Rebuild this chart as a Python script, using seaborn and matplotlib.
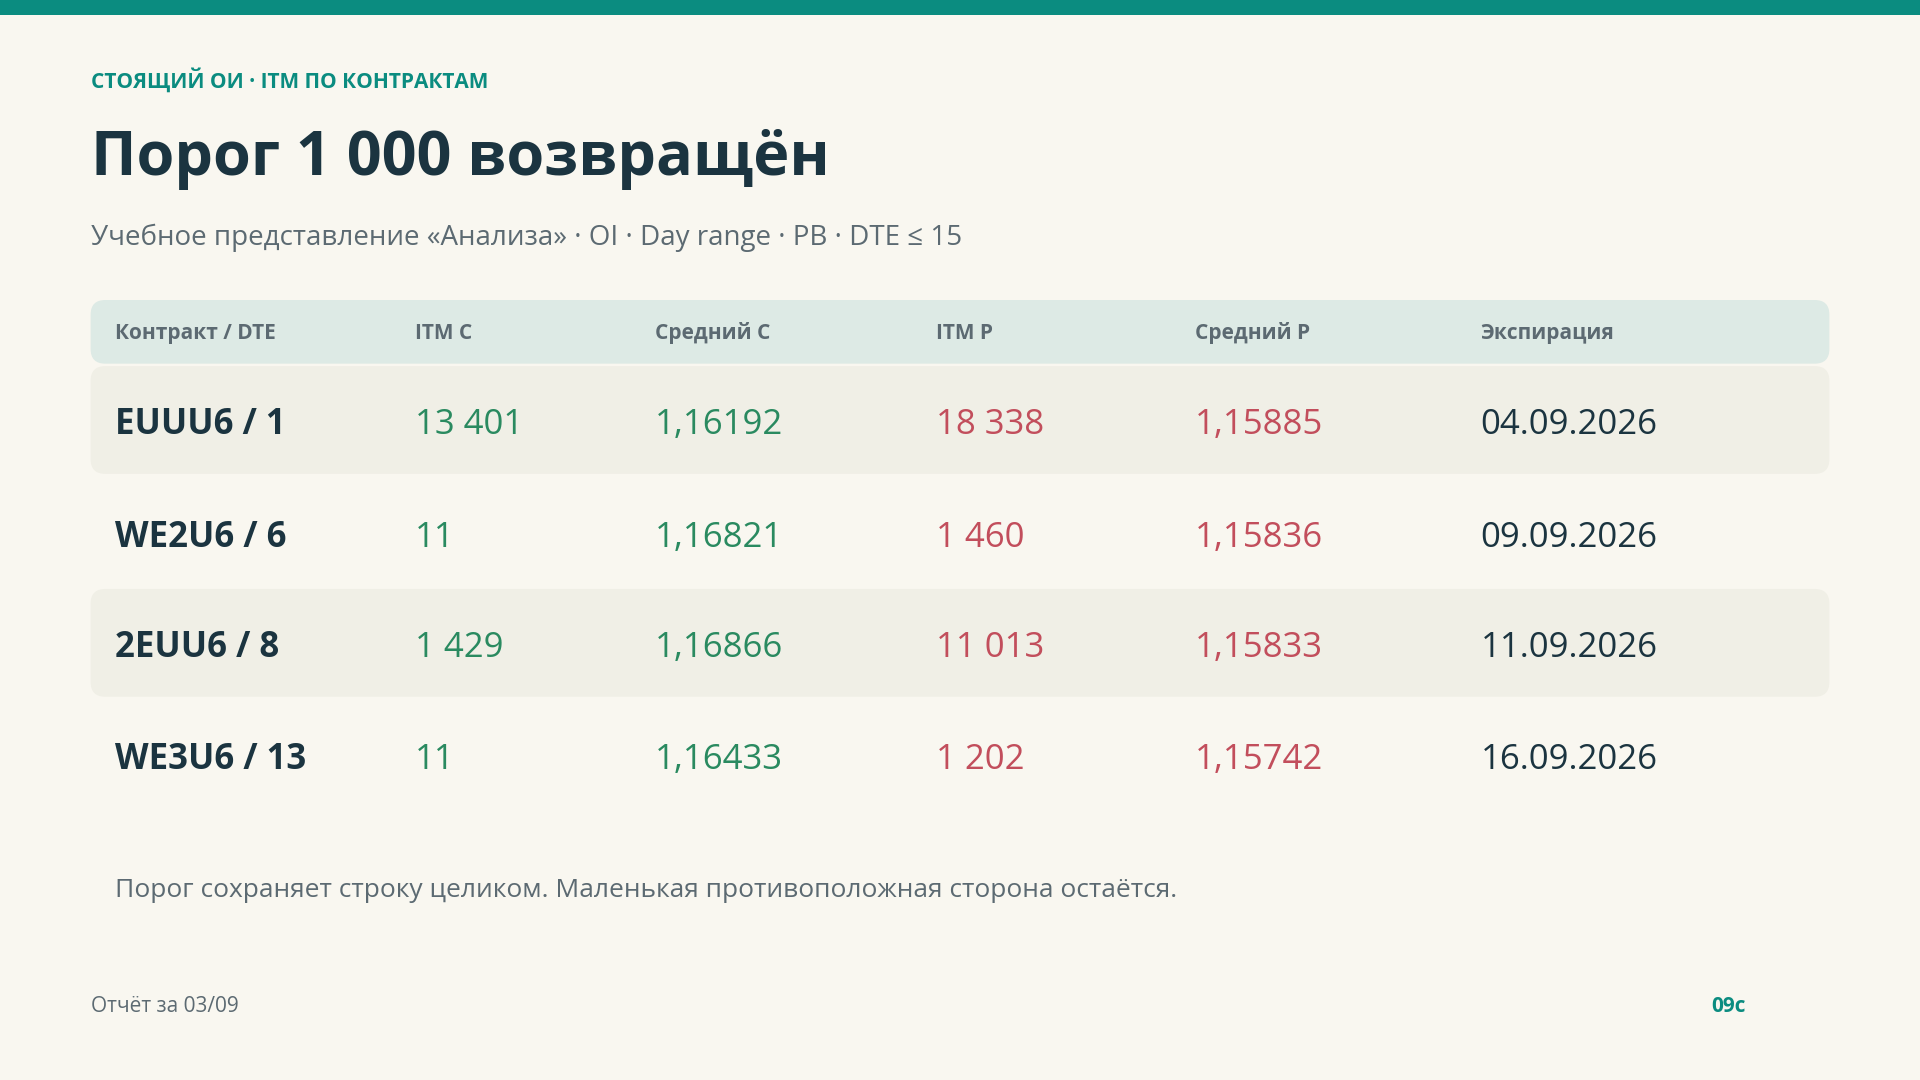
import matplotlib.pyplot as plt
import seaborn as sns
from matplotlib.patches import FancyBboxPatch, Rectangle

contracts = ["EUUU6 / 1", "WE2U6 / 6", "2EUU6 / 8", "WE3U6 / 13"]
itm_c = ["13 401", "11", "1 429", "11"]
avg_c = ["1,16192", "1,16821", "1,16866", "1,16433"]
itm_p = ["18 338", "1 460", "11 013", "1 202"]
avg_p = ["1,15885", "1,15836", "1,15833", "1,15742"]
expiry = ["04.09.2026", "09.09.2026", "11.09.2026", "16.09.2026"]
headers = ["Контракт / DTE", "ITM C", "Средний C", "ITM P", "Средний P", "Экспирация"]

BG = "#F9F7F0"
TEAL = "#0B8C80"
DARK = "#1B3440"
GRAY = "#5C6A72"
GREEN = "#2A8A60"
RED = "#C24E5C"

sns.set_theme(style="white")
plt.rcParams["font.family"] = ["Open Sans", "Noto Sans", "DejaVu Sans"]

fig = plt.figure(figsize=(19.2, 10.8), dpi=100, facecolor=BG)
ax = fig.add_axes([0, 0, 1, 1])
ax.set_xlim(0, 1568)
ax.set_ylim(882, 0)
ax.axis("off")
ax.set_facecolor(BG)

ax.add_patch(Rectangle((0, 0), 1568, 12, color=TEAL, lw=0))

ax.text(74, 66, "СТОЯЩИЙ ОИ · ITM ПО КОНТРАКТАМ", color=TEAL, fontsize=15,
        fontweight="bold", va="center")
ax.text(74, 130, "Порог 1 000 возвращён", color=DARK, fontsize=44,
        fontweight="bold", va="center")
ax.text(74, 194, "Учебное представление «Анализа» · OI · Day range · PB · DTE ≤ 15",
        color=GRAY, fontsize=20, va="center")

# header band
ax.add_patch(FancyBboxPatch((74, 245), 1420, 52, boxstyle="round,pad=0,rounding_size=12",
                            fc="#DDEAE5", ec="none"))
col_x = [94, 339, 535, 764, 976, 1209]
for x, h in zip(col_x, headers):
    ax.text(x, 272, h, color=GRAY, fontsize=15, fontweight="bold", va="center")

row_y = [343, 435, 525, 617]
for i, y in enumerate(row_y):
    if i % 2 == 0:
        ax.add_patch(FancyBboxPatch((74, y - 44), 1420, 88,
                                    boxstyle="round,pad=0,rounding_size=12",
                                    fc="#F0EFE6", ec="none"))
    ax.text(col_x[0], y + 4, contracts[i], color=DARK, fontsize=25, fontweight="bold", va="center")
    ax.text(col_x[1], y + 4, itm_c[i], color=GREEN, fontsize=25, va="center")
    ax.text(col_x[2], y + 4, avg_c[i], color=GREEN, fontsize=25, va="center")
    ax.text(col_x[3], y + 4, itm_p[i], color=RED, fontsize=25, va="center")
    ax.text(col_x[4], y + 4, avg_p[i], color=RED, fontsize=25, va="center")
    ax.text(col_x[5], y + 4, expiry[i], color=DARK, fontsize=25, va="center")

ax.text(94, 727, "Порог сохраняет строку целиком. Маленькая противоположная сторона остаётся.",
        color=GRAY, fontsize=19, va="center")
ax.text(74, 822, "Отчёт за 03/09", color=GRAY, fontsize=15, va="center")
ax.text(1426, 822, "09c", color=TEAL, fontsize=15, fontweight="bold", va="center", ha="right")

fig.savefig("out.png", dpi=100, facecolor=BG)
